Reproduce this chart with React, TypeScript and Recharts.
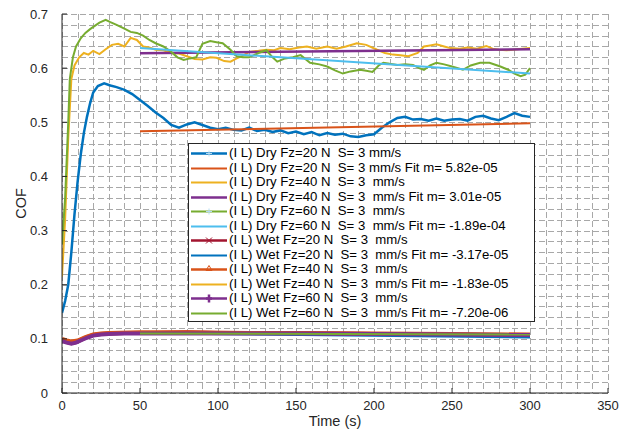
import { CartesianGrid, Line, LineChart, XAxis, YAxis } from 'recharts'

// plot box (px) — matches the MATLAB export
const W = 629
const H = 434
const PLOT_LEFT = 62
const PLOT_TOP = 14
const PLOT_RIGHT = 608
const PLOT_BOTTOM = 393

const AXIS = '#262626'
const GRID = '#a8a8a8'
const FONT = '"Liberation Sans", Arial, sans-serif'

const X_MAX = 350
const Y_MAX = 0.7
const X_TICKS = [0, 50, 100, 150, 200, 250, 300, 350]
const Y_TICKS = [0, 0.1, 0.2, 0.3, 0.4, 0.5, 0.6, 0.7]

// [time s, COF]
const dry20: [number, number][] = [
  [0, 0.148], [2, 0.17], [4, 0.2], [6, 0.26], [8, 0.33], [10, 0.39], [12, 0.44], [14, 0.48],
  [16, 0.51], [18, 0.535], [20, 0.555], [23, 0.567], [27, 0.572], [31, 0.568], [35, 0.565],
  [40, 0.56], [45, 0.552], [50, 0.541], [55, 0.53], [60, 0.518], [65, 0.508], [70, 0.495],
  [75, 0.49], [80, 0.496], [85, 0.5], [90, 0.495], [95, 0.49], [100, 0.487], [105, 0.49],
  [110, 0.486], [115, 0.485], [120, 0.49], [125, 0.484], [130, 0.486], [135, 0.482],
  [140, 0.485], [145, 0.48], [150, 0.483], [155, 0.478], [160, 0.482], [165, 0.476],
  [170, 0.48], [175, 0.477], [180, 0.479], [185, 0.474], [190, 0.473], [195, 0.476],
  [200, 0.478], [205, 0.49], [210, 0.5], [215, 0.508], [220, 0.51], [225, 0.505],
  [230, 0.506], [235, 0.503], [240, 0.507], [245, 0.503], [250, 0.505], [255, 0.506],
  [260, 0.503], [265, 0.51], [270, 0.512], [275, 0.507], [280, 0.504], [285, 0.51],
  [290, 0.517], [295, 0.512], [300, 0.51],
]
const dry20Fit: [number, number][] = [[50, 0.4835], [300, 0.498]]

const dry40: [number, number][] = [
  [0, 0.215], [2, 0.32], [4, 0.47], [6, 0.58], [8, 0.605], [11, 0.62], [14, 0.628], [17, 0.625],
  [20, 0.632], [24, 0.626], [28, 0.635], [32, 0.643], [36, 0.645], [40, 0.64], [44, 0.656],
  [48, 0.652], [52, 0.64], [56, 0.638], [60, 0.634], [65, 0.633], [70, 0.628], [75, 0.627],
  [80, 0.622], [85, 0.617], [90, 0.616], [95, 0.62], [99, 0.619], [104, 0.613], [108, 0.612],
  [112, 0.618], [116, 0.623], [120, 0.63], [126, 0.632], [131, 0.634], [136, 0.633],
  [140, 0.637], [146, 0.635], [152, 0.638], [157, 0.64], [163, 0.636], [170, 0.64],
  [176, 0.636], [182, 0.64], [189, 0.646], [195, 0.643], [202, 0.634], [207, 0.628],
  [212, 0.625], [217, 0.624], [222, 0.622], [228, 0.628], [232, 0.64], [236, 0.642],
  [240, 0.644], [245, 0.64], [249, 0.637], [255, 0.636], [260, 0.638], [266, 0.636],
  [272, 0.641], [276, 0.636], [280, 0.634], [285, 0.633], [289, 0.634], [295, 0.636],
  [300, 0.637],
]
const dry40Fit: [number, number][] = [[50, 0.6275], [300, 0.635]]

const dry60: [number, number][] = [
  [0, 0.275], [2, 0.36], [4, 0.5], [5, 0.58], [7, 0.62], [9, 0.64], [12, 0.655], [15, 0.665],
  [18, 0.672], [21, 0.678], [24, 0.684], [28, 0.689], [31, 0.685], [35, 0.68], [40, 0.673],
  [44, 0.667], [48, 0.665], [52, 0.66], [56, 0.652], [60, 0.646], [65, 0.64], [70, 0.63],
  [74, 0.62], [78, 0.615], [82, 0.618], [86, 0.62], [90, 0.645], [95, 0.65], [99, 0.648],
  [103, 0.646], [108, 0.634], [112, 0.622], [116, 0.62], [120, 0.62], [126, 0.628],
  [131, 0.633], [135, 0.62], [138, 0.612], [143, 0.618], [148, 0.62], [153, 0.624],
  [159, 0.61], [165, 0.607], [170, 0.603], [175, 0.596], [180, 0.59], [185, 0.594],
  [191, 0.597], [195, 0.595], [199, 0.593], [203, 0.605], [206, 0.61], [210, 0.608],
  [215, 0.606], [220, 0.607], [225, 0.606], [229, 0.6], [232, 0.597], [236, 0.605],
  [240, 0.61], [245, 0.607], [250, 0.603], [257, 0.597], [262, 0.605], [268, 0.61],
  [274, 0.61], [281, 0.603], [286, 0.597], [290, 0.59], [294, 0.585], [297, 0.588], [300, 0.6],
]
const dry60Fit: [number, number][] = [[50, 0.637], [300, 0.59]]

const wet20: [number, number][] = [
  [0, 0.097], [3, 0.094], [6, 0.092], [9, 0.094], [12, 0.098], [16, 0.103], [20, 0.107],
  [25, 0.109], [30, 0.11], [40, 0.111], [60, 0.111], [80, 0.112], [100, 0.111], [130, 0.111],
  [160, 0.11], [200, 0.109], [240, 0.108], [270, 0.107], [300, 0.106],
]
const wet20Fit: [number, number][] = [[50, 0.1105], [300, 0.1026]]

const wet40: [number, number][] = [
  [0, 0.1], [3, 0.097], [6, 0.095], [10, 0.097], [15, 0.103], [20, 0.108], [25, 0.11],
  [30, 0.111], [50, 0.112], [80, 0.112], [120, 0.111], [160, 0.111], [200, 0.11],
  [250, 0.109], [300, 0.108],
]
const wet40Fit: [number, number][] = [[50, 0.1112], [300, 0.1066]]

const wet60: [number, number][] = [
  [0, 0.096], [3, 0.093], [6, 0.091], [9, 0.093], [12, 0.097], [16, 0.102], [20, 0.106],
  [25, 0.108], [30, 0.109], [40, 0.11], [50, 0.11], [100, 0.11], [150, 0.11], [200, 0.109],
  [250, 0.108], [300, 0.107],
]
const wet60Fit: [number, number][] = [[50, 0.1098], [300, 0.108]]

const pts = (rows: [number, number][]) => rows.map(([t, v]) => ({ t, v }))

type Marker = 'none' | 'plus' | 'cross' | 'tri' | 'bigplus'

interface Series {
  name: string
  rows: [number, number][]
  color: string
  width: number
  marker: Marker
}

const SERIES: Series[] = [
  { name: '(I L) Dry Fz=20 N  S= 3 mm/s', rows: dry20, color: '#0072BD', width: 2.5, marker: 'plus' },
  { name: '(I L) Dry Fz=20 N  S= 3 mm/s Fit m= 5.82e-05', rows: dry20Fit, color: '#D95319', width: 2, marker: 'none' },
  { name: '(I L) Dry Fz=40 N  S= 3  mm/s', rows: dry40, color: '#EDB120', width: 2, marker: 'none' },
  { name: '(I L) Dry Fz=40 N  S= 3  mm/s Fit m= 3.01e-05', rows: dry40Fit, color: '#7E2F8E', width: 2.5, marker: 'none' },
  { name: '(I L) Dry Fz=60 N  S= 3  mm/s', rows: dry60, color: '#77AC30', width: 2, marker: 'plus' },
  { name: '(I L) Dry Fz=60 N  S= 3  mm/s Fit m= -1.89e-04', rows: dry60Fit, color: '#4DBEEE', width: 2, marker: 'none' },
  { name: '(I L) Wet Fz=20 N  S= 3  mm/s', rows: wet20, color: '#A2142F', width: 4, marker: 'cross' },
  { name: '(I L) Wet Fz=20 N  S= 3  mm/s Fit m= -3.17e-05', rows: wet20Fit, color: '#0072BD', width: 2, marker: 'none' },
  { name: '(I L) Wet Fz=40 N  S= 3  mm/s', rows: wet40, color: '#D95319', width: 4, marker: 'tri' },
  { name: '(I L) Wet Fz=40 N  S= 3  mm/s Fit m= -1.83e-05', rows: wet40Fit, color: '#EDB120', width: 2, marker: 'none' },
  { name: '(I L) Wet Fz=60 N  S= 3  mm/s', rows: wet60, color: '#7E2F8E', width: 4, marker: 'bigplus' },
  { name: '(I L) Wet Fz=60 N  S= 3  mm/s Fit m= -7.20e-06', rows: wet60Fit, color: '#77AC30', width: 2, marker: 'none' },
]

// grid every 10 s / 0.02 COF (major + minor, both dashed); half-pixel aligned
const X_GRID = Array.from({ length: 36 }, (_, i) => i * 10)
const Y_GRID = Array.from({ length: 36 }, (_, i) => i / 50)
const X_GRID_PX = X_GRID.map((v) => Math.round(PLOT_LEFT + (v / X_MAX) * (PLOT_RIGHT - PLOT_LEFT)) + 0.5)
const Y_GRID_PX = Y_GRID.map((v) => Math.round(PLOT_BOTTOM - (v / Y_MAX) * (PLOT_BOTTOM - PLOT_TOP)) + 0.5)

function MarkerGlyph({ kind, color }: { kind: Marker; color: string }) {
  const c = 19
  if (kind === 'plus')
    return <path d={`M${c - 3} 7.5 H${c + 3} M${c} 4.5 V10.5`} stroke="#b5dcf2" strokeWidth={1} />
  if (kind === 'cross')
    return (
      <path
        d={`M${c - 3} 4.5 L${c + 3} 10.5 M${c + 3} 4.5 L${c - 3} 10.5`}
        stroke={color}
        strokeWidth={1}
        fill="none"
      />
    )
  if (kind === 'tri')
    return <path d={`M${c} 3.5 L${c + 3} 8.5 L${c - 3} 8.5 Z`} stroke={color} strokeWidth={1} fill="none" />
  if (kind === 'bigplus')
    return <path d={`M${c - 3} 7.5 H${c + 3} M${c} 3.5 V11.5`} stroke={color} strokeWidth={2.5} />
  return null
}

function LegendBox() {
  return (
    <div
      style={{
        position: 'absolute',
        left: 188,
        top: 143,
        width: 347,
        height: 179,
        boxSizing: 'border-box',
        border: `1px solid ${AXIS}`,
        background: '#fff',
        padding: '2px 0 0 1px',
        fontFamily: FONT,
        fontSize: 13.2,
        color: '#000',
        lineHeight: '14.5px',
      }}
    >
      {SERIES.map((s) => (
        <div key={s.name} style={{ display: 'flex', alignItems: 'center', whiteSpace: 'pre', height: 14.5 }}>
          <svg width={39} height={14.5} style={{ flex: 'none' }}>
            <line x1={1} x2={37} y1={7.5} y2={7.5} stroke={s.color} strokeWidth={Math.min(s.width, 2.5)} />
            <MarkerGlyph kind={s.marker} color={s.color} />
          </svg>
          <span>{s.name}</span>
        </div>
      ))}
    </div>
  )
}

function XTick({ x, payload }: any) {
  return (
    <g>
      <line x1={x} x2={x} y1={PLOT_BOTTOM} y2={PLOT_BOTTOM - 5} stroke={AXIS} />
      <text x={x} y={410} textAnchor="middle" fill={AXIS} fontSize={13} fontFamily={FONT}>
        {payload.value}
      </text>
    </g>
  )
}

function YTick({ y, payload }: any) {
  return (
    <g>
      <line x1={PLOT_LEFT} x2={PLOT_LEFT + 5} y1={y} y2={y} stroke={AXIS} />
      <text x={PLOT_LEFT - 14} y={y + 4.5} textAnchor="end" fill={AXIS} fontSize={13} fontFamily={FONT}>
        {payload.value}
      </text>
    </g>
  )
}

export default function App() {
  return (
    <div style={{ position: 'absolute', left: 0, top: 0, width: W, height: H, background: '#fff' }}>
      <LineChart
        width={W}
        height={H}
        margin={{ top: PLOT_TOP, right: W - PLOT_RIGHT, bottom: 0, left: 0 }}
      >
        <CartesianGrid
          stroke={GRID}
          strokeOpacity={1}
          strokeWidth={1}
          strokeDasharray="6 3"
          shapeRendering="crispEdges"
          horizontalPoints={Y_GRID_PX}
          verticalPoints={X_GRID_PX}
        />
        <XAxis
          type="number"
          dataKey="t"
          domain={[0, X_MAX]}
          ticks={X_TICKS}
          height={H - PLOT_BOTTOM}
          axisLine={{ stroke: AXIS }}
          tickLine={false}
          tick={<XTick />}
          interval={0}
          allowDataOverflow
        />
        <YAxis
          type="number"
          domain={[0, Y_MAX]}
          ticks={Y_TICKS}
          width={PLOT_LEFT}
          axisLine={{ stroke: AXIS }}
          tickLine={false}
          tick={<YTick />}
          interval={0}
          allowDataOverflow
        />
        {SERIES.map((s) => (
          <Line
            key={s.name}
            data={pts(s.rows)}
            dataKey="v"
            name={s.name}
            type="linear"
            stroke={s.color}
            strokeWidth={s.width}
            dot={false}
            activeDot={false}
            isAnimationActive={false}
          />
        ))}
        <text
          x={21}
          y={(PLOT_TOP + PLOT_BOTTOM) / 2}
          transform={`rotate(-90 21 ${(PLOT_TOP + PLOT_BOTTOM) / 2})`}
          textAnchor="middle"
          dominantBaseline="central"
          fontSize={14.5}
          fontFamily={FONT}
          fill={AXIS}
        >
          COF
        </text>
        <text
          x={(PLOT_LEFT + PLOT_RIGHT) / 2}
          y={426}
          textAnchor="middle"
          fontSize={14.5}
          fontFamily={FONT}
          fill={AXIS}
        >
          Time (s)
        </text>
      </LineChart>
      <LegendBox />
    </div>
  )
}
